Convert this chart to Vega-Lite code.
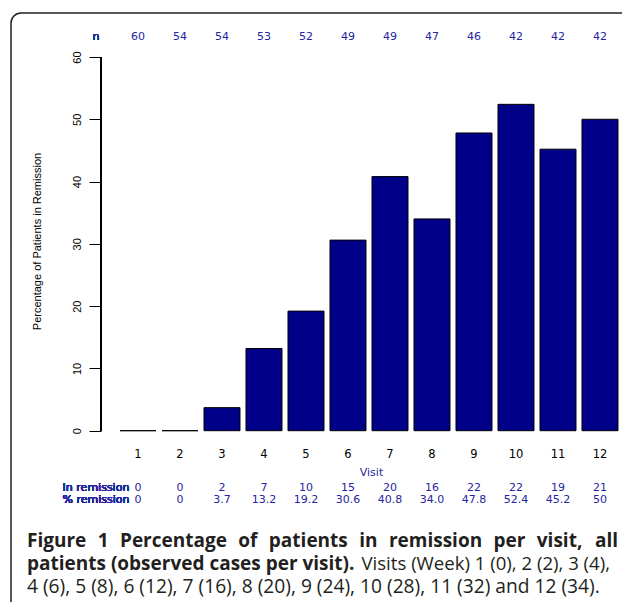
{
  "$schema": "https://vega.github.io/schema/vega-lite/v6.json",
  "width": 621,
  "height": 599,
  "autosize": "none",
  "padding": {"left": 11, "top": 13, "right": -10, "bottom": -10},
  "background": "white",
  "config": {"view": {"stroke": "#231f20", "strokeWidth": 1.5, "cornerRadius": 10}},
  "datasets": {
    "visits": [
      {"visit": 1, "n": 60, "remit": 0, "pct": 0, "pct_label": "0"},
      {"visit": 2, "n": 54, "remit": 0, "pct": 0, "pct_label": "0"},
      {"visit": 3, "n": 54, "remit": 2, "pct": 3.7, "pct_label": "3.7"},
      {"visit": 4, "n": 53, "remit": 7, "pct": 13.2, "pct_label": "13.2"},
      {"visit": 5, "n": 52, "remit": 10, "pct": 19.2, "pct_label": "19.2"},
      {"visit": 6, "n": 49, "remit": 15, "pct": 30.6, "pct_label": "30.6"},
      {"visit": 7, "n": 49, "remit": 20, "pct": 40.8, "pct_label": "40.8"},
      {"visit": 8, "n": 47, "remit": 16, "pct": 34.0, "pct_label": "34.0"},
      {"visit": 9, "n": 46, "remit": 22, "pct": 47.8, "pct_label": "47.8"},
      {"visit": 10, "n": 42, "remit": 22, "pct": 52.4, "pct_label": "52.4"},
      {"visit": 11, "n": 42, "remit": 19, "pct": 45.2, "pct_label": "45.2"},
      {"visit": 12, "n": 42, "remit": 21, "pct": 50, "pct_label": "50"}
    ],
    "caption": [
      {"line": 1, "side": "left", "weight": "bold", "text": "Figure\u2002\u200a1\u2002\u200aPercentage\u2002\u200aof\u2002\u200apatients\u2002\u200ain\u2002\u200aremission\u2002\u200aper\u2002\u200avisit,"},
      {"line": 1, "side": "right", "weight": "bold", "text": "all"},
      {"line": 2, "side": "left", "weight": "bold", "text": "patients (observed cases per visit)."},
      {"line": 2, "side": "right", "weight": "normal", "text": "Visits (Week) 1 (0), 2 (2), 3 (4),"},
      {"line": 3, "side": "left", "weight": "normal", "text": "4 (6), 5 (8), 6 (12), 7 (16), 8 (20), 9 (24), 10 (28), 11 (32) and 12 (34)."}
    ]
  },
  "layer": [
    {
      "data": {"name": "visits"},
      "encoding": {
        "x": {
          "field": "visit",
          "type": "ordinal",
          "scale": {"domain": [0, 1, 2, 3, 4, 5, 6, 7, 8, 9, 10, 11, 12], "paddingInner": 0.143, "paddingOuter": 0.9645, "align": 0.827, "round": false},
          "axis": {
            "values": [1, 2, 3, 4, 5, 6, 7, 8, 9, 10, 11, 12],
            "orient": "bottom", "offset": -181.3, "domain": false, "ticks": false, "grid": false,
            "labelPadding": 18, "labelFont": "DejaVu Sans", "labelFontSize": 11.5, "labelColor": "black", "labelAngle": 0,
            "title": "Visit", "titleFont": "DejaVu Sans", "titleFontSize": 11, "titleFontWeight": "normal", "titleColor": "#2525a0",
            "titleX": 360, "titlePadding": 6
          }
        },
        "y": {
          "field": "pct",
          "type": "quantitative",
          "scale": {"domain": [-29.11, 67.065], "nice": false, "zero": false},
          "axis": {
            "values": [0, 10, 20, 30, 40, 50, 60],
            "offset": -90, "domain": false, "grid": false, "tickSize": 12, "tickColor": "black",
            "labelAngle": -90, "labelPadding": 7, "labelFont": "Liberation Sans", "labelFontSize": 11, "labelColor": "black",
            "title": "Percentage of Patients in Remission", "titleFont": "Liberation Sans", "titleFontSize": 11, "titleFontWeight": "normal", "titleColor": "black",
            "titleY": 228, "titlePadding": 29
          }
        }
      },
      "layer": [
        {"mark": {"type": "bar", "fill": "#000088", "stroke": "black", "strokeWidth": 1}},
        {
          "mark": {"type": "rule", "color": "black", "strokeWidth": 1},
          "encoding": {"x": {"datum": 0, "type": "ordinal", "bandPosition": 0.639}, "y": {"datum": 0}, "y2": {"datum": 60}}
        },
        {
          "mark": {"type": "text", "font": "DejaVu Sans", "fontSize": 11, "color": "#2525a0", "baseline": "middle"},
          "encoding": {"y": {"datum": 63.21}, "text": {"field": "n"}}
        },
        {
          "mark": {"type": "text", "font": "DejaVu Sans", "fontSize": 11, "color": "#2525a0", "baseline": "middle"},
          "encoding": {"y": {"datum": -9.2}, "text": {"field": "remit"}}
        },
        {
          "mark": {"type": "text", "font": "DejaVu Sans", "fontSize": 11, "color": "#2525a0", "baseline": "middle"},
          "encoding": {"y": {"datum": -11.1}, "text": {"field": "pct_label"}}
        },
        {
          "mark": {"type": "text", "font": "DejaVu Sans", "fontSize": 11, "color": "#2525a0", "baseline": "middle", "text": "n"},
          "encoding": {"x": {"datum": 0, "type": "ordinal"}, "y": {"datum": 63.21}}
        },
        {
          "mark": {"type": "text", "font": "DejaVu Sans", "fontSize": 11, "color": "#2525a0", "baseline": "middle", "text": "In remission"},
          "encoding": {"x": {"datum": 0, "type": "ordinal"}, "y": {"datum": -9.2}}
        },
        {
          "mark": {"type": "text", "font": "DejaVu Sans", "fontSize": 11, "color": "#2525a0", "baseline": "middle", "text": "% remission"},
          "encoding": {"x": {"datum": 0, "type": "ordinal"}, "y": {"datum": -11.1}}
        }
      ]
    },
    {
      "data": {"name": "caption"},
      "encoding": {
        "y": {"field": "line", "type": "quantitative", "scale": {"domain": [-22.217, 3.826], "reverse": true, "nice": false, "zero": false}, "axis": null},
        "text": {"field": "text"}
      },
      "layer": [
        {
          "transform": [{"filter": "datum.weight == 'bold' && datum.side == 'left'"}],
          "mark": {"type": "text", "font": "Open Sans", "fontSize": 19, "fontWeight": "bold", "align": "left", "baseline": "alphabetic", "color": "#231f20"},
          "encoding": {"x": {"datum": 0, "type": "quantitative", "scale": {"domain": [-0.02707, 1.02369], "nice": false, "zero": false}, "axis": null}}
        },
        {
          "transform": [{"filter": "datum.weight == 'bold' && datum.side == 'right'"}],
          "mark": {"type": "text", "font": "Open Sans", "fontSize": 19, "fontWeight": "bold", "align": "right", "baseline": "alphabetic", "color": "#231f20"},
          "encoding": {"x": {"datum": 1, "type": "quantitative", "scale": {"domain": [-0.02707, 1.02369], "nice": false, "zero": false}, "axis": null}}
        },
        {
          "transform": [{"filter": "datum.weight == 'normal' && datum.side == 'right'"}],
          "mark": {"type": "text", "font": "Open Sans", "fontSize": 18.6, "align": "right", "baseline": "alphabetic", "color": "#231f20"},
          "encoding": {"x": {"datum": 0.9865, "type": "quantitative", "scale": {"domain": [-0.02707, 1.02369], "nice": false, "zero": false}, "axis": null}}
        },
        {
          "transform": [{"filter": "datum.weight == 'normal' && datum.side == 'left'"}],
          "mark": {"type": "text", "font": "Open Sans", "fontSize": 19.2, "align": "left", "baseline": "alphabetic", "color": "#231f20"},
          "encoding": {"x": {"datum": 0, "type": "quantitative", "scale": {"domain": [-0.02707, 1.02369], "nice": false, "zero": false}, "axis": null}}
        }
      ]
    }
  ],
  "resolve": {"scale": {"x": "independent", "y": "independent"}}
}
